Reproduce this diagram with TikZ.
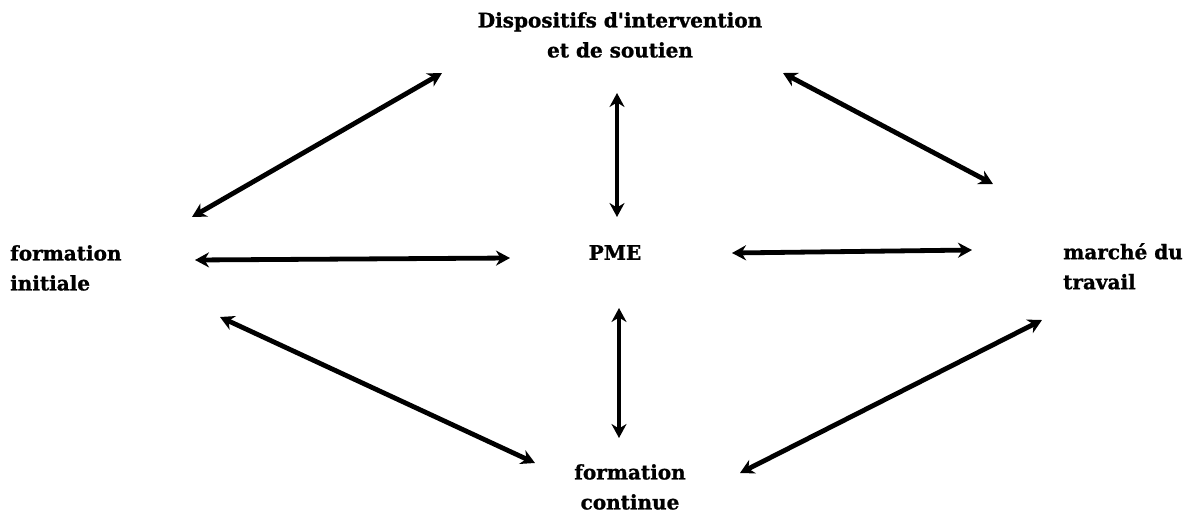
\documentclass[tikz,border=0pt]{standalone}
\usepackage{fontspec}
\setmainfont{DejaVu Serif}[BoldFeatures={FakeBold=1.2}]
\usetikzlibrary{arrows.meta}
\begin{document}
\begin{tikzpicture}[x=1pt,y=-1pt,
  lbl/.style={font=\fontsize{20}{30}\selectfont\bfseries, inner sep=0pt, align=center},
  lbll/.style={font=\fontsize{20}{30}\selectfont\bfseries, inner sep=0pt, align=left},
  link/.style={line width=4.8pt, {Stealth[length=14pt,width=15pt]}-{Stealth[length=14pt,width=15pt]}}]
\useasboundingbox (0,0) rectangle (1191,520);
% labels
\node[lbl, anchor=north] (disp) at (620,12) {Dispositifs d\textquotesingle intervention\\et de soutien};
\node[lbll, anchor=north west] (fi) at (10,245) {formation\\initiale};
\node[lbl, anchor=north] (pme) at (615,245) {PME};
\node[lbll, anchor=north west] (mt) at (1063,243) {marché du\\travail};
\node[lbl, anchor=north] (fc) at (630,464) {formation\\continue};
% arrow end points
\coordinate (a1) at (192,217); \coordinate (b1) at (442,73);
\coordinate (a2) at (617,93);  \coordinate (b2) at (617,217);
\coordinate (a3) at (783,73);  \coordinate (b3) at (993,184);
\coordinate (a4) at (195,260); \coordinate (b4) at (510,258);
\coordinate (a5) at (732,253); \coordinate (b5) at (972,250);
\coordinate (a6) at (619,308); \coordinate (b6) at (619,438);
\coordinate (a7) at (220,317); \coordinate (b7) at (535,463);
\coordinate (a8) at (740,473); \coordinate (b8) at (1042,320);
\foreach \i in {1,...,8} {\draw[link] (a\i) -- (b\i);}
\end{tikzpicture}
\end{document}
